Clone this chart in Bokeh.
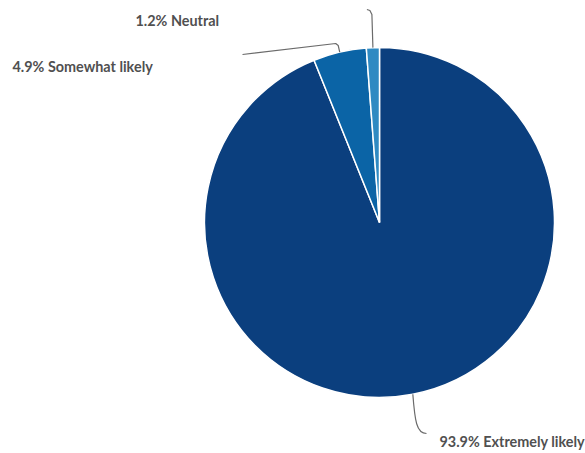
import math
from bokeh.plotting import figure
from bokeh.models import Range1d, ColumnDataSource
from bokeh.core.properties import value
from bokeh.embed import file_html
from bokeh.resources import INLINE

categories = ["Extremely likely", "Somewhat likely", "Neutral"]
percents = [93.9, 4.9, 1.2]
colors = ["#0b3f7e", "#0b64a6", "#2f8ac2"]

W, H = 585, 453
CX, CY, R = 379, 222, 175  # image coords (y downward)

def Y(y):
    return H - y

p = figure(width=W, height=H, output_backend="svg", toolbar_location=None,
           x_range=Range1d(0, W), y_range=Range1d(0, H), min_border=0)
p.axis.visible = False
p.grid.visible = False
p.outline_line_color = None
p.background_fill_color = "white"
p.border_fill_color = "white"

total = sum(percents)
starts, ends, mids = [], [], []
cum = 0.0
for v in percents:
    f0 = cum / total
    cum += v
    f1 = cum / total
    starts.append(math.pi / 2 - 2 * math.pi * f1)
    ends.append(math.pi / 2 - 2 * math.pi * f0)
    mids.append(math.pi / 2 - 2 * math.pi * (f0 + f1) / 2)

src = ColumnDataSource(dict(start=starts, end=ends, color=colors))
p.wedge(x=CX, y=Y(CY), radius=R, start_angle="start", end_angle="end",
        fill_color="color", line_color="white", line_width=1.5, source=src)

# leader lines (anchored at slice mid points)
def edge(i):
    return CX + R * math.cos(mids[i]), Y(CY) + R * math.sin(mids[i])

x0, y0 = edge(0)
p.bezier(x0=[x0], y0=[y0], x1=[426], y1=[Y(433)], cx0=[x0 + 2], cy0=[Y(420)],
         cx1=[416], cy1=[Y(433)], line_color="#6b6b6b", line_width=1.2)
x1, y1 = edge(1)
p.line([x1, x1 - 1.5, x1 - 4, 242], [y1, Y(45), Y(43), Y(54)],
       line_color="#6b6b6b", line_width=1.2)
x2, y2 = edge(2)
p.line([x2, x2 - 1, x2 - 3, x2 - 6], [y2, Y(14), Y(10), Y(9)],
       line_color="#6b6b6b", line_width=1.2)

labels = [f"{v}% {c}" for v, c in zip(percents, categories)]
lx = [439, 12, 135]
ly = [Y(441), Y(66), Y(20)]
p.text(x=lx, y=ly, text=labels, text_font=value("Lato"), text_font_size="14.4px",
       text_font_style="bold", text_color="#505050", text_baseline="middle",
       text_align="left")

open("out.html", "w").write(file_html(p, INLINE))
